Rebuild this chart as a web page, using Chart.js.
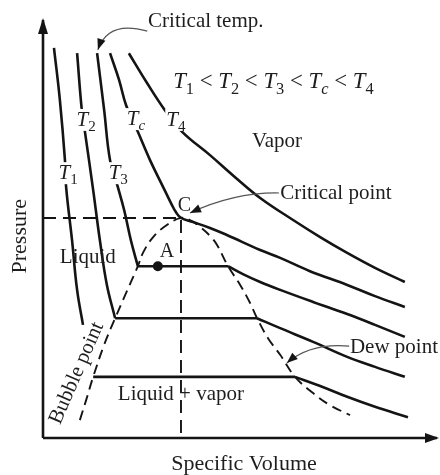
<!DOCTYPE html>
<html><head><meta charset="utf-8">
<script src="https://cdn.jsdelivr.net/npm/chart.js@4.4.0/dist/chart.umd.min.js"></script>
<style>html,body{margin:0;padding:0;background:#fff;}#wrap{width:440px;height:475px;position:relative;}</style>
</head><body><div id="wrap"><canvas id="c" width="440" height="475"></canvas></div>
<script>
// Values in arbitrary units: specific volume (x, 0-10) and pressure (y, 0-10).
const t1Volume   = [0.28,0.43,0.56,0.59,0.74,0.87,1.02,null,1.28,6.43,7.07,7.76,8.47,9.31];
const t1Pressure = [9.38,8.13,6.68,6.03,4.76,3.56,2.72,null,1.47,1.47,1.25,0.99,0.75,0.50];
const t2Volume   = [0.87,0.99,1.07,1.28,1.45,1.63,1.84,5.46,6.05,6.89,7.76,8.47,9.23];
const t2Pressure = [9.25,7.88,7.36,5.96,4.76,3.68,2.88,2.88,2.64,2.31,1.95,1.71,1.47];
const t3Volume   = [1.38,1.56,1.71,1.91,2.07,2.24,2.42,4.72,5.10,5.54,6.05,6.89,7.76,8.47,9.23];
const t3Pressure = [9.25,7.88,6.68,6.03,5.48,4.76,4.13,4.13,3.94,3.75,3.56,3.27,2.98,2.72,2.43];
const tcVolume   = [1.71,1.94,2.12,2.42,2.73,3.04,3.29,3.39,3.52,3.83,4.26,4.69,5.54,6.05,6.81,7.76,8.47,9.23];
const tcPressure = [9.25,8.61,8.00,7.36,6.68,6.08,5.60,5.43,5.29,5.19,5.05,4.88,4.52,4.33,4.01,3.68,3.41,3.15];
const t4Volume   = [2.19,2.65,3.11,3.55,4.26,4.90,5.54,6.38,7.07,7.76,8.47,9.23];
const t4Pressure = [9.25,8.54,7.88,7.36,6.80,6.27,5.77,5.24,4.83,4.45,4.09,3.75];
const bubbleVolume   = [3.52,3.16,2.81,2.55,2.42,2.14,1.84,1.56,1.28,1.10,0.94];
const bubblePressure = [5.29,5.12,4.83,4.45,4.13,3.53,2.88,2.24,1.47,0.91,0.43];
const dewVolume   = [3.52,3.75,4.01,4.26,4.44,4.72,5.03,5.28,5.46,5.74,6.05,6.43,6.89,7.32,7.83];
const dewPressure = [5.29,5.24,5.07,4.86,4.64,4.13,3.68,3.25,2.88,2.40,2.00,1.47,1.08,0.79,0.55];
const criticalPoint = [3.52, 5.29];
const pointA = [2.93, 4.13];

const INK = '#141414';
const TXT = '#1e1e1e';
const SERIF = '"Liberation Serif","Times New Roman",serif';

// split an isotherm into smooth branches and straight tie lines (equal pressures)
function splitIsotherm(v, p) {
  const pieces = []; let cur = [];
  for (let i = 0; i < v.length; i++) {
    if (v[i] === null) { if (cur.length) pieces.push({pts:cur, tie:false}); cur = []; continue; }
    const pt = {x: v[i], y: p[i]};
    cur.push(pt);
    if (i + 1 < v.length && v[i+1] !== null && p[i+1] === p[i]) {
      if (cur.length > 1) pieces.push({pts:cur, tie:false});
      pieces.push({pts:[pt, {x:v[i+1], y:p[i+1]}], tie:true});
      cur = [];
    }
  }
  if (cur.length) pieces.push({pts:cur, tie:false});
  for (let k = 1; k < pieces.length; k++) {
    if (pieces[k-1].tie && !pieces[k].tie) pieces[k].pts.unshift(pieces[k-1].pts[1]);
  }
  return pieces;
}

const datasets = [];
[[t1Volume,t1Pressure],[t2Volume,t2Pressure],[t3Volume,t3Pressure],[tcVolume,tcPressure],[t4Volume,t4Pressure]].forEach(([v,p]) => {
  splitIsotherm(v,p).forEach(pc => datasets.push({
    data: pc.pts, showLine: true, borderColor: INK, borderWidth: 2.6, pointRadius: 0,
    tension: pc.tie ? 0 : 0.4, fill: false
  }));
});
// saturation dome (bubble-point branch + dew-point branch)
const dome = bubbleVolume.map((v,i)=>({x:v,y:bubblePressure[i]})).reverse()
  .concat(dewVolume.slice(1).map((v,i)=>({x:v,y:dewPressure[i+1]})));
datasets.push({data: dome, showLine:true, borderColor: INK, borderWidth: 1.9, borderDash:[10,6], pointRadius:0, tension:0.4});
// critical pressure / volume dashed guides
datasets.push({data:[{x:0,y:criticalPoint[1]},{x:criticalPoint[0],y:criticalPoint[1]},{x:criticalPoint[0],y:0}],
  showLine:true, borderColor: INK, borderWidth: 1.9, borderDash:[13,7], pointRadius:0, tension:0});
// point A
datasets.push({data:[{x:pointA[0],y:pointA[1]}], showLine:false, pointRadius:5, backgroundColor:INK, borderColor:INK, borderWidth:0});

function richParts(ctx, parts, size, draw, x, y) {
  let cx = x || 0;
  for (const p of parts) {
    const fs = p.sub ? size*0.72 : size;
    ctx.font = (p.it ? 'italic ' : '') + fs + 'px ' + SERIF;
    if (draw) ctx.fillText(p.t, cx, y + (p.sub ? size*0.24 : 0));
    cx += ctx.measureText(p.t).width;
  }
  return cx - (x || 0);
}
const T = (s) => [{t:'T', it:true}, {t:s, sub:true, it: s==='c'}];

const annotations = {
  tLabels: [ // centre positions in data units
    {parts:T('1'), at:[0.64,6.39]}, {parts:T('2'), at:[1.10,7.67]}, {parts:T('3'), at:[1.92,6.39]},
    {parts:T('c'), at:[2.37,7.69]}, {parts:T('4'), at:[3.39,7.67]}
  ]
};

const overlay = {
  id: 'overlay',
  afterDatasetsDraw(chart) {
    const ctx = chart.ctx, xs = chart.scales.x, ys = chart.scales.y, a = chart.chartArea;
    const X = v => xs.getPixelForValue(v), Y = v => ys.getPixelForValue(v);
    ctx.save();
    // axes with arrows
    ctx.strokeStyle = INK; ctx.fillStyle = INK; ctx.lineWidth = 2.6; ctx.setLineDash([]);
    ctx.beginPath(); ctx.moveTo(a.left, a.bottom); ctx.lineTo(a.left, a.top - 2); ctx.stroke();
    ctx.beginPath(); ctx.moveTo(a.left, a.bottom); ctx.lineTo(a.right + 2, a.bottom); ctx.stroke();
    ctx.beginPath(); ctx.moveTo(a.left, a.top - 4); ctx.lineTo(a.left - 5, a.top + 12); ctx.lineTo(a.left + 5, a.top + 12); ctx.closePath(); ctx.fill();
    ctx.beginPath(); ctx.moveTo(a.right + 4, a.bottom); ctx.lineTo(a.right - 10, a.bottom - 5); ctx.lineTo(a.right - 10, a.bottom + 5); ctx.closePath(); ctx.fill();

    // curved leaders with arrowheads
    function leader(p0, c, p1) {
      const x0=X(p0[0]), y0=Y(p0[1]), cx=X(c[0]), cy=Y(c[1]), x1=X(p1[0]), y1=Y(p1[1]);
      ctx.strokeStyle = '#555'; ctx.lineWidth = 1.2;
      ctx.beginPath(); ctx.moveTo(x0,y0); ctx.quadraticCurveTo(cx,cy,x1,y1); ctx.stroke();
      const ang = Math.atan2(y1-cy, x1-cx), L = 11, W = 4.2;
      ctx.fillStyle = INK;
      ctx.beginPath(); ctx.moveTo(x1,y1);
      ctx.lineTo(x1 - L*Math.cos(ang) + W*Math.sin(ang), y1 - L*Math.sin(ang) - W*Math.cos(ang));
      ctx.lineTo(x1 - L*Math.cos(ang) - W*Math.sin(ang), y1 - L*Math.sin(ang) + W*Math.cos(ang));
      ctx.closePath(); ctx.fill();
    }
    leader([2.66,9.78],[1.66,10.05],[1.40,9.33]);
    leader([6.02,5.89],[4.90,5.91],[3.75,5.41]);
    leader([7.81,2.21],[6.81,2.29],[6.22,1.80]);

    // T labels over white boxes (break the isotherm lines)
    ctx.textBaseline = 'alphabetic'; ctx.textAlign = 'left';
    const size = 21;
    annotations.tLabels.forEach(l => {
      const w = richParts(ctx, l.parts, size, false);
      const cx = X(l.at[0]), cy = Y(l.at[1]);
      ctx.fillStyle = '#fff'; ctx.fillRect(cx - w/2 - 1, cy - 10, w + 2, 22);
      ctx.fillStyle = TXT; richParts(ctx, l.parts, size, true, cx - w/2, cy + 7);
    });
    // inequality
    ctx.fillStyle = TXT;
    const ineq = [].concat(T('1'),[{t:' < '}],T('2'),[{t:' < '}],T('3'),[{t:' < '}],T('c'),[{t:' < '}],T('4'));
    richParts(ctx, ineq, 22.8, true, X(3.32), Y(8.41));

    const txt = (s, v, p, size, opts) => {
      ctx.font = (opts && opts.it ? 'italic ' : '') + size + 'px ' + SERIF;
      ctx.textAlign = (opts && opts.align) || 'left';
      ctx.fillText(s, X(v), Y(p));
    };
    txt('Critical temp.', 2.68, 9.88, 21);
    txt('Vapor', 5.33, 7.00, 21);
    txt('Critical point', 6.05, 5.75, 21);
    txt('C', 3.44, 5.46, 20);
    txt('A', 2.98, 4.35, 20);
    txt('Liquid', 0.43, 4.21, 21);
    txt('Liquid + vapor', 1.91, 0.91, 21);
    txt('Dew point', 7.83, 2.04, 21);

    // rotated labels
    ctx.textAlign = 'center'; ctx.textBaseline = 'middle';
    ctx.save(); ctx.translate(X(0.86), Y(1.56)); ctx.rotate(-66.5*Math.PI/180);
    ctx.font = '21px ' + SERIF; ctx.fillText('Bubble point', 0, 0); ctx.restore();
    ctx.save(); ctx.translate(20, Y(4.85)); ctx.rotate(-Math.PI/2);
    ctx.font = '22px ' + SERIF; ctx.fillText('Pressure', 0, 0); ctx.restore();
    ctx.textBaseline = 'alphabetic';
    ctx.font = '22px ' + SERIF; ctx.fillText('Specific Volume', (a.left + a.right)/2 + 5, a.bottom + 32);
    ctx.restore();
  }
};

new Chart(document.getElementById('c'), {
  type: 'scatter',
  data: { datasets },
  options: {
    responsive: false, animation: false, events: [],
    layout: { padding: { left: 43, top: 22, right: 5, bottom: 37 } },
    plugins: { legend: { display: false }, tooltip: { enabled: false } },
    scales: {
      x: { type: 'linear', min: 0, max: 10, display: false },
      y: { type: 'linear', min: 0, max: 10, display: false }
    }
  },
  plugins: [overlay]
});
</script></body></html>
